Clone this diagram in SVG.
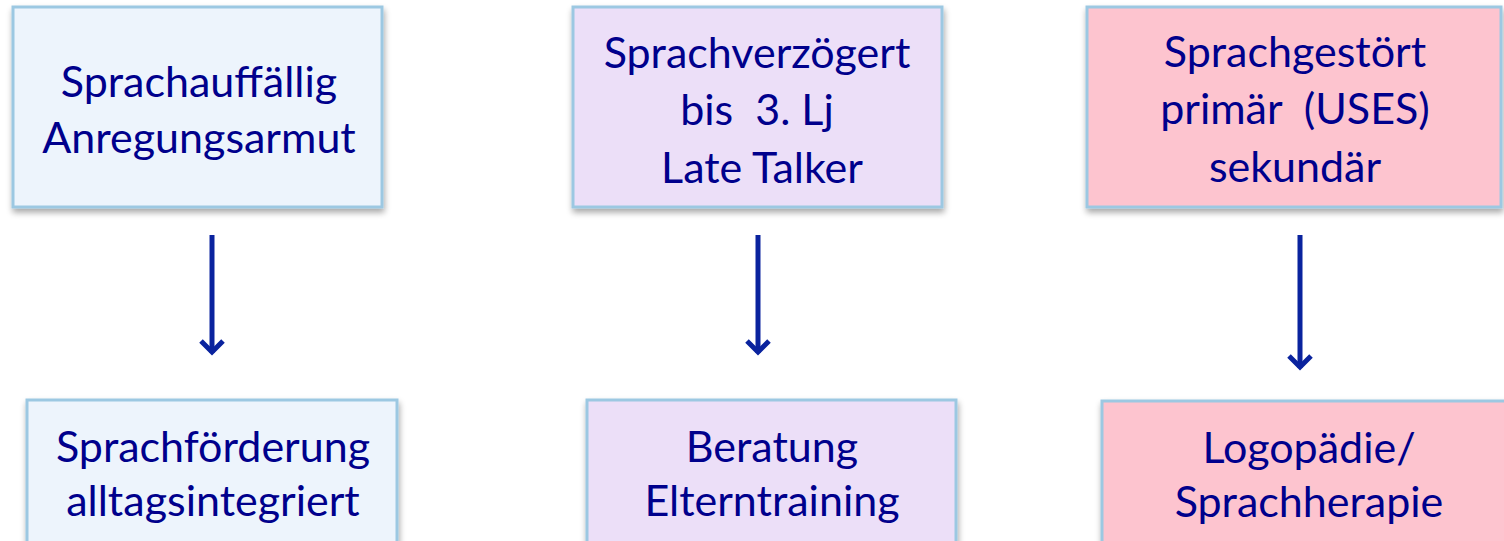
<svg xmlns="http://www.w3.org/2000/svg" width="1504" height="541" viewBox="0 0 1504 541">
  <style>
    .box { stroke: #9cc8e2; stroke-width: 3; filter: url(#shadow); }
    .blue { fill: #edf4fc; }
    .lilac { fill: #ecdff8; }
    .pink { fill: #fdc4cf; }
    .label { font-family: Lato, "Open Sans", "DejaVu Sans", sans-serif; font-size: 43px; fill: #00008c; text-anchor: middle; }
    .conn { stroke: #0a239e; stroke-width: 5; fill: none; marker-end: url(#head); }
  </style>
  <defs>
    <!-- soft drop shadow under every box -->
    <filter id="shadow" x="-10%" y="-10%" width="120%" height="130%">
      <feGaussianBlur in="SourceAlpha" stdDeviation="3"/>
      <feOffset dx="1" dy="4" result="b"/>
      <feComponentTransfer><feFuncA type="linear" slope="0.35"/></feComponentTransfer>
      <feMerge><feMergeNode/><feMergeNode in="SourceGraphic"/></feMerge>
    </filter>
    <!-- open chevron arrowhead -->
    <marker id="head" viewBox="0 0 26 26" refX="20" refY="13" markerWidth="26" markerHeight="26" markerUnits="userSpaceOnUse" orient="auto">
      <path d="M8,2 L19,13 L8,24" fill="none" stroke="#0a239e" stroke-width="5" stroke-linejoin="miter"/>
    </marker>
  </defs>

  <g id="sprachauffaellig">
    <rect class="box blue" x="13" y="7" width="369" height="200"/>
    <text class="label" x="199" y="97">Sprachauffällig</text>
    <text class="label" x="199" y="153">Anregungsarmut</text>
  </g>

  <g id="sprachverzoegert">
    <rect class="box lilac" x="573" y="7" width="369" height="200"/>
    <text class="label" x="757" y="68">Sprachverzögert</text>
    <text class="label" x="757" y="125" xml:space="preserve">bis  3. Lj</text>
    <text class="label" x="762" y="183">Late Talker</text>
  </g>

  <g id="sprachgestoert">
    <rect class="box pink" x="1087" y="7" width="414" height="200"/>
    <text class="label" x="1295" y="67">Sprachgestört</text>
    <text class="label" x="1295" y="124" xml:space="preserve">primär  (USES)</text>
    <text class="label" x="1295" y="182">sekundär</text>
  </g>

  <g id="sprachfoerderung">
    <rect class="box blue" x="27" y="400" width="370" height="160"/>
    <text class="label" x="213" y="462">Sprachförderung</text>
    <text class="label" x="213" y="516">alltagsintegriert</text>
  </g>

  <g id="beratung">
    <rect class="box lilac" x="587" y="400" width="369" height="160"/>
    <text class="label" x="772" y="462">Beratung</text>
    <text class="label" x="772" y="516">Elterntraining</text>
  </g>

  <g id="logopaedie">
    <rect class="box pink" x="1102" y="401" width="420" height="160"/>
    <text class="label" x="1309" y="463">Logopädie/</text>
    <text class="label" x="1309" y="517">Sprachherapie</text>
  </g>

  <g id="connectors">
    <line class="conn" x1="212" y1="235" x2="212" y2="353"/>
    <line class="conn" x1="758" y1="235" x2="758" y2="353"/>
    <line class="conn" x1="1300" y1="235" x2="1300" y2="368"/>
  </g>
</svg>
